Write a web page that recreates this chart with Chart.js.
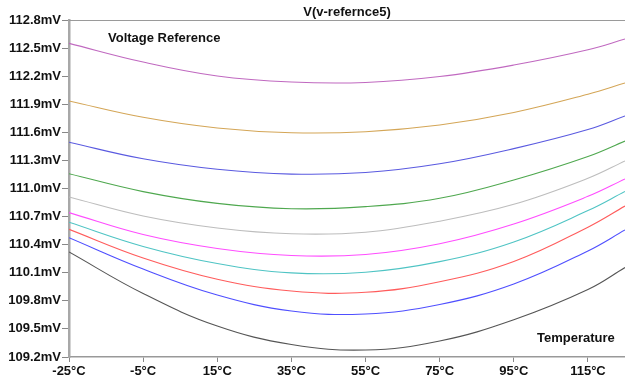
<!DOCTYPE html>
<html>
<head>
<meta charset="utf-8">
<script src="https://cdn.jsdelivr.net/npm/chart.js@4"></script>
<style>
  body { margin: 0; background: #fff; }
</style>
</head>
<body>
<canvas id="chart" width="625" height="383"></canvas>
<script>
// temperature sweep points (°C)
const temps = [-25, -5, 15, 35, 55, 75, 95, 115, 125];
const xTicks = [-25, -5, 15, 35, 55, 75, 95, 115];
const yTicks = [109.2, 109.5, 109.8, 110.1, 110.4, 110.7, 111.0, 111.3, 111.6, 111.9, 112.2, 112.5, 112.8];

// V(v-refernce5) in mV, one array per step
const step1 = [112.551, 112.351, 112.202, 112.138, 112.133, 112.196, 112.319, 112.482, 112.597];
const step2 = [111.935, 111.761, 111.647, 111.596, 111.607, 111.678, 111.812, 112.007, 112.127];
const step3 = [111.494, 111.317, 111.205, 111.154, 111.171, 111.264, 111.426, 111.630, 111.775];
const step4 = [111.158, 110.967, 110.841, 110.784, 110.806, 110.895, 111.091, 111.342, 111.507];
const step5 = [110.909, 110.706, 110.578, 110.516, 110.533, 110.651, 110.831, 111.109, 111.294];
const step6 = [110.742, 110.508, 110.359, 110.284, 110.295, 110.410, 110.621, 110.916, 111.102];
const step7 = [110.639, 110.381, 110.199, 110.099, 110.106, 110.219, 110.429, 110.764, 110.968];
const step8 = [110.564, 110.258, 110.031, 109.905, 109.891, 110.004, 110.220, 110.587, 110.813];
const step9 = [110.475, 110.140, 109.862, 109.692, 109.660, 109.761, 109.980, 110.333, 110.557];
const step10 = [110.322, 109.878, 109.531, 109.334, 109.275, 109.371, 109.598, 109.921, 110.156];

const steps = [step1, step2, step3, step4, step5, step6, step7, step8, step9, step10];
const traceColors = ['#c069c0', '#d4a657', '#5a5ae0', '#4fa84f', '#bdbdbd',
                     '#ff4dff', '#4fc4c4', '#ff5c5c', '#4f4fff', '#555555'];

const boldFont = { family: '"Liberation Sans", Arial, sans-serif', size: 13, weight: 'bold' };

function asTicks(list) {
    return list.map(v => ({ value: v }));
}

// title, top border and the two text annotations
const annotations = {
    id: 'annotations',
    afterDraw(chart) {
        const ctx = chart.ctx;
        const area = chart.chartArea;
        ctx.save();
        ctx.strokeStyle = '#9a9a9a';
        ctx.lineWidth = 1;
        ctx.beginPath();
        ctx.moveTo(area.left, area.top + 0.5);
        ctx.lineTo(chart.width, area.top + 0.5);
        ctx.stroke();

        ctx.fillStyle = '#111';
        ctx.font = 'bold 13px "Liberation Sans", Arial, sans-serif';
        ctx.textBaseline = 'middle';
        ctx.textAlign = 'center';
        ctx.fillText('V(v-refernce5)', (area.left + area.right) / 2, 12);
        ctx.textAlign = 'left';
        ctx.fillText('Voltage Reference', area.left + 39, area.top + 18.5);
        ctx.fillText('Temperature', area.right - 88, area.bottom - 19);
        ctx.restore();
    }
};

const datasets = steps.map((vals, i) => ({
    data: vals.map((v, j) => ({ x: temps[j], y: v })),
    borderColor: traceColors[i],
    borderWidth: 1.1,
    pointRadius: 0,
    tension: 0.4,
    fill: false
}));

new Chart(document.getElementById('chart').getContext('2d'), {
    type: 'line',
    data: { datasets: datasets },
    options: {
        responsive: false,
        animation: false,
        layout: { padding: { top: 20, right: -2, left: 0, bottom: 0 } },
        plugins: {
            legend: { display: false },
            tooltip: { enabled: false }
        },
        scales: {
            x: {
                type: 'linear',
                min: -25,
                max: 125,
                afterBuildTicks: s => { s.ticks = asTicks(xTicks); },
                afterFit: s => { s.height = 26; },
                grid: { drawOnChartArea: false, drawTicks: true, tickLength: 5, color: '#888' },
                border: { color: '#999', width: 1.5 },
                ticks: {
                    font: boldFont,
                    color: '#111',
                    padding: 2,
                    maxRotation: 0,
                    autoSkip: false,
                    callback: v => v + '°C'
                }
            },
            y: {
                min: 109.2,
                max: 112.8,
                afterBuildTicks: s => { s.ticks = asTicks(yTicks); },
                afterFit: s => { s.width = 69; },
                grid: { drawOnChartArea: false, drawTicks: true, tickLength: 7, color: '#888' },
                border: { color: '#a8a8a8', width: 2.5 },
                ticks: {
                    font: boldFont,
                    color: '#111',
                    padding: 1,
                    autoSkip: false,
                    callback: v => Number(v).toFixed(1) + 'mV'
                }
            }
        }
    },
    plugins: [annotations]
});
</script>
</body>
</html>
